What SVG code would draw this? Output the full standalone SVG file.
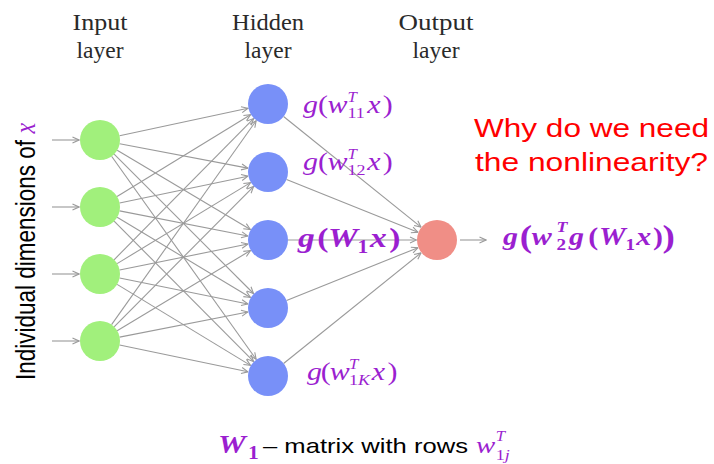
<svg xmlns="http://www.w3.org/2000/svg" width="714" height="464" viewBox="0 0 714 464">
<style>
.lbl{font-family:"Liberation Serif",serif;font-size:23.5px;fill:#2a2a2a;text-anchor:middle}
.edge{stroke:#9a9a9a;stroke-width:1.1;fill:none;marker-end:url(#ah)}
.in{fill:#a1f07c}
.hid{fill:#7890f8}
.out{fill:#f08e86}
.m{font-family:"Liberation Serif",serif;fill:#9b1fd0}
.it{font-style:italic}
.b{font-weight:bold}
.red{font-family:"Liberation Sans",Arial,sans-serif;font-size:26px;fill:#ff0000}
.sans{font-family:"Liberation Sans",Arial,sans-serif;fill:#000}
</style>
<defs>
<marker id="ah" viewBox="0 0 8 8" refX="7.5" refY="4" markerWidth="8" markerHeight="8" markerUnits="userSpaceOnUse" orient="auto">
<path d="M1,1 L7.5,4 L1,7" fill="none" stroke="#9a9a9a" stroke-width="1.1"/>
</marker>
</defs>
<rect width="714" height="464" fill="#fff"/>

<g id="layer-labels">
<text class="lbl" x="100" y="30" textLength="55" lengthAdjust="spacingAndGlyphs">Input</text>
<text class="lbl" x="100" y="58" textLength="47" lengthAdjust="spacingAndGlyphs">layer</text>
<text class="lbl" x="268" y="30" textLength="72" lengthAdjust="spacingAndGlyphs">Hidden</text>
<text class="lbl" x="268" y="58" textLength="47" lengthAdjust="spacingAndGlyphs">layer</text>
<text class="lbl" x="436" y="30" textLength="75" lengthAdjust="spacingAndGlyphs">Output</text>
<text class="lbl" x="436" y="58" textLength="47" lengthAdjust="spacingAndGlyphs">layer</text>
</g>

<g id="axis-label" transform="translate(35,380) scale(1.23,1) rotate(-90)">
<text class="sans" x="0" y="0" font-size="22.5">Individual dimensions of <tspan class="m it" font-size="24">x</tspan></text>
</g>

<g id="connectors">
<line class="edge" x1="52" y1="140" x2="79" y2="140"/>
<line class="edge" x1="52" y1="207" x2="79" y2="207"/>
<line class="edge" x1="52" y1="274" x2="79" y2="274"/>
<line class="edge" x1="52" y1="341" x2="79" y2="341"/>

<line class="edge" x1="119.56" y1="135.81" x2="247.96" y2="108.29"/>
<line class="edge" x1="119.65" y1="143.74" x2="247.86" y2="168.16"/>
<line class="edge" x1="117.19" y1="150.23" x2="250.38" y2="229.51"/>
<line class="edge" x1="114.14" y1="154.14" x2="253.50" y2="293.50"/>
<line class="edge" x1="111.60" y1="156.29" x2="256.11" y2="359.30"/>

<line class="edge" x1="117.05" y1="196.55" x2="250.52" y2="114.72"/>
<line class="edge" x1="119.58" y1="202.92" x2="247.93" y2="176.18"/>
<line class="edge" x1="119.62" y1="210.85" x2="247.88" y2="236.05"/>
<line class="edge" x1="117.14" y1="217.31" x2="250.43" y2="297.44"/>
<line class="edge" x1="114.10" y1="221.18" x2="253.55" y2="361.46"/>

<line class="edge" x1="114.06" y1="259.77" x2="253.59" y2="118.58"/>
<line class="edge" x1="117.10" y1="263.62" x2="250.48" y2="182.64"/>
<line class="edge" x1="119.60" y1="270.03" x2="247.91" y2="244.07"/>
<line class="edge" x1="119.60" y1="277.97" x2="247.91" y2="303.93"/>
<line class="edge" x1="117.10" y1="284.38" x2="250.48" y2="365.36"/>

<line class="edge" x1="111.57" y1="324.68" x2="256.14" y2="120.72"/>
<line class="edge" x1="114.10" y1="326.82" x2="253.55" y2="186.54"/>
<line class="edge" x1="117.14" y1="330.69" x2="250.43" y2="250.56"/>
<line class="edge" x1="119.62" y1="337.15" x2="247.88" y2="311.95"/>
<line class="edge" x1="119.58" y1="345.08" x2="247.93" y2="371.82"/>

<line class="edge" x1="283.58" y1="116.54" x2="421.03" y2="227.15"/>
<line class="edge" x1="286.55" y1="179.47" x2="417.98" y2="232.35"/>
<line class="edge" x1="288" y1="240" x2="416.5" y2="240"/>
<line class="edge" x1="286.55" y1="300.53" x2="417.98" y2="247.65"/>
<line class="edge" x1="283.58" y1="363.46" x2="421.03" y2="252.85"/>

<line class="edge" x1="460" y1="240" x2="486" y2="240"/>
</g>

<g id="input-1"><circle class="in" cx="100" cy="140" r="20"/></g>
<g id="input-2"><circle class="in" cx="100" cy="207" r="20"/></g>
<g id="input-3"><circle class="in" cx="100" cy="274" r="20"/></g>
<g id="input-4"><circle class="in" cx="100" cy="341" r="20"/></g>

<g id="hidden-1"><circle class="hid" cx="268" cy="104" r="20"/></g>
<g id="hidden-2"><circle class="hid" cx="268" cy="172" r="20"/></g>
<g id="hidden-3"><circle class="hid" cx="268" cy="240" r="20"/></g>
<g id="hidden-4"><circle class="hid" cx="268" cy="308" r="20"/></g>
<g id="hidden-5"><circle class="hid" cx="268" cy="376" r="20"/></g>

<g id="output"><circle class="out" cx="437" cy="240" r="20"/></g>

<g id="label-h1" class="m" font-size="25" transform="translate(303,113) scale(1.2,1)">
<text x="0" y="0" class="it">g</text>
<text x="12.5" y="0">(</text>
<text x="20.5" y="0" class="it">w</text>
<text x="37" y="-11" class="it" font-size="14">T</text>
<text x="37" y="5" font-size="15">11</text>
<text x="53.5" y="0" class="it">x</text>
<text x="66.5" y="0">)</text>
</g>

<g id="label-h2" class="m" font-size="25" transform="translate(303,170) scale(1.2,1)">
<text x="0" y="0" class="it">g</text>
<text x="12.5" y="0">(</text>
<text x="20.5" y="0" class="it">w</text>
<text x="37" y="-11" class="it" font-size="14">T</text>
<text x="37" y="5" font-size="15">12</text>
<text x="53.5" y="0" class="it">x</text>
<text x="66.5" y="0">)</text>
</g>

<g id="label-hK" class="m" font-size="25" transform="translate(307,380) scale(1.2,1)">
<text x="0" y="0" class="it">g</text>
<text x="11.5" y="0">(</text>
<text x="19" y="0" class="it">w</text>
<text x="35" y="-11" class="it" font-size="14">T</text>
<text x="35" y="5" font-size="15">1<tspan class="it">K</tspan></text>
<text x="54" y="0" class="it">x</text>
<text x="67" y="0">)</text>
</g>

<g id="label-W1x" class="m b" font-size="28" transform="translate(298,247) scale(1.2,1)">
<text x="0" y="0" class="it">g</text>
<text x="16" y="0">(</text>
<text x="25" y="0" class="it">W</text>
<text x="49.5" y="6" font-size="18">1</text>
<text x="60" y="0" class="it">x</text>
<text x="76" y="0">)</text>
</g>

<g id="label-output" class="m b" font-size="25" transform="translate(503,245) scale(1.2,1)">
<text x="0" y="0" class="it">g</text>
<text x="14" y="2" font-size="31">(</text>
<text x="24" y="0" class="it">w</text>
<text x="44.5" y="-13" class="it" font-size="15">T</text>
<text x="44.5" y="5" font-size="16">2</text>
<text x="55" y="0" class="it">g</text>
<text x="71" y="0">(</text>
<text x="80" y="0" class="it">W</text>
<text x="102" y="5" font-size="16">1</text>
<text x="111" y="0" class="it">x</text>
<text x="125" y="0">)</text>
<text x="133" y="2" font-size="31">)</text>
</g>

<g id="question">
<text class="red" x="474" y="137" textLength="235" lengthAdjust="spacingAndGlyphs">Why do we need</text>
<text class="red" x="475" y="171" textLength="233" lengthAdjust="spacingAndGlyphs">the nonlinearity?</text>
</g>

<g id="caption">
<g class="m b" font-size="26" transform="translate(218,453) scale(1.2,1)">
<text x="0" y="0" class="it">W</text>
<text x="25" y="6" font-size="18">1</text>
</g>
<text class="sans" x="263" y="453" font-size="21" textLength="205" lengthAdjust="spacingAndGlyphs">– matrix with rows</text>
<g class="m" font-size="24" transform="translate(476,453) scale(1.2,1)">
<text x="0" y="0" class="it">w</text>
<text x="16.5" y="-12" class="it" font-size="14">T</text>
<text x="16.5" y="7" font-size="15">1<tspan class="it">j</tspan></text>
</g>
</g>
</svg>
